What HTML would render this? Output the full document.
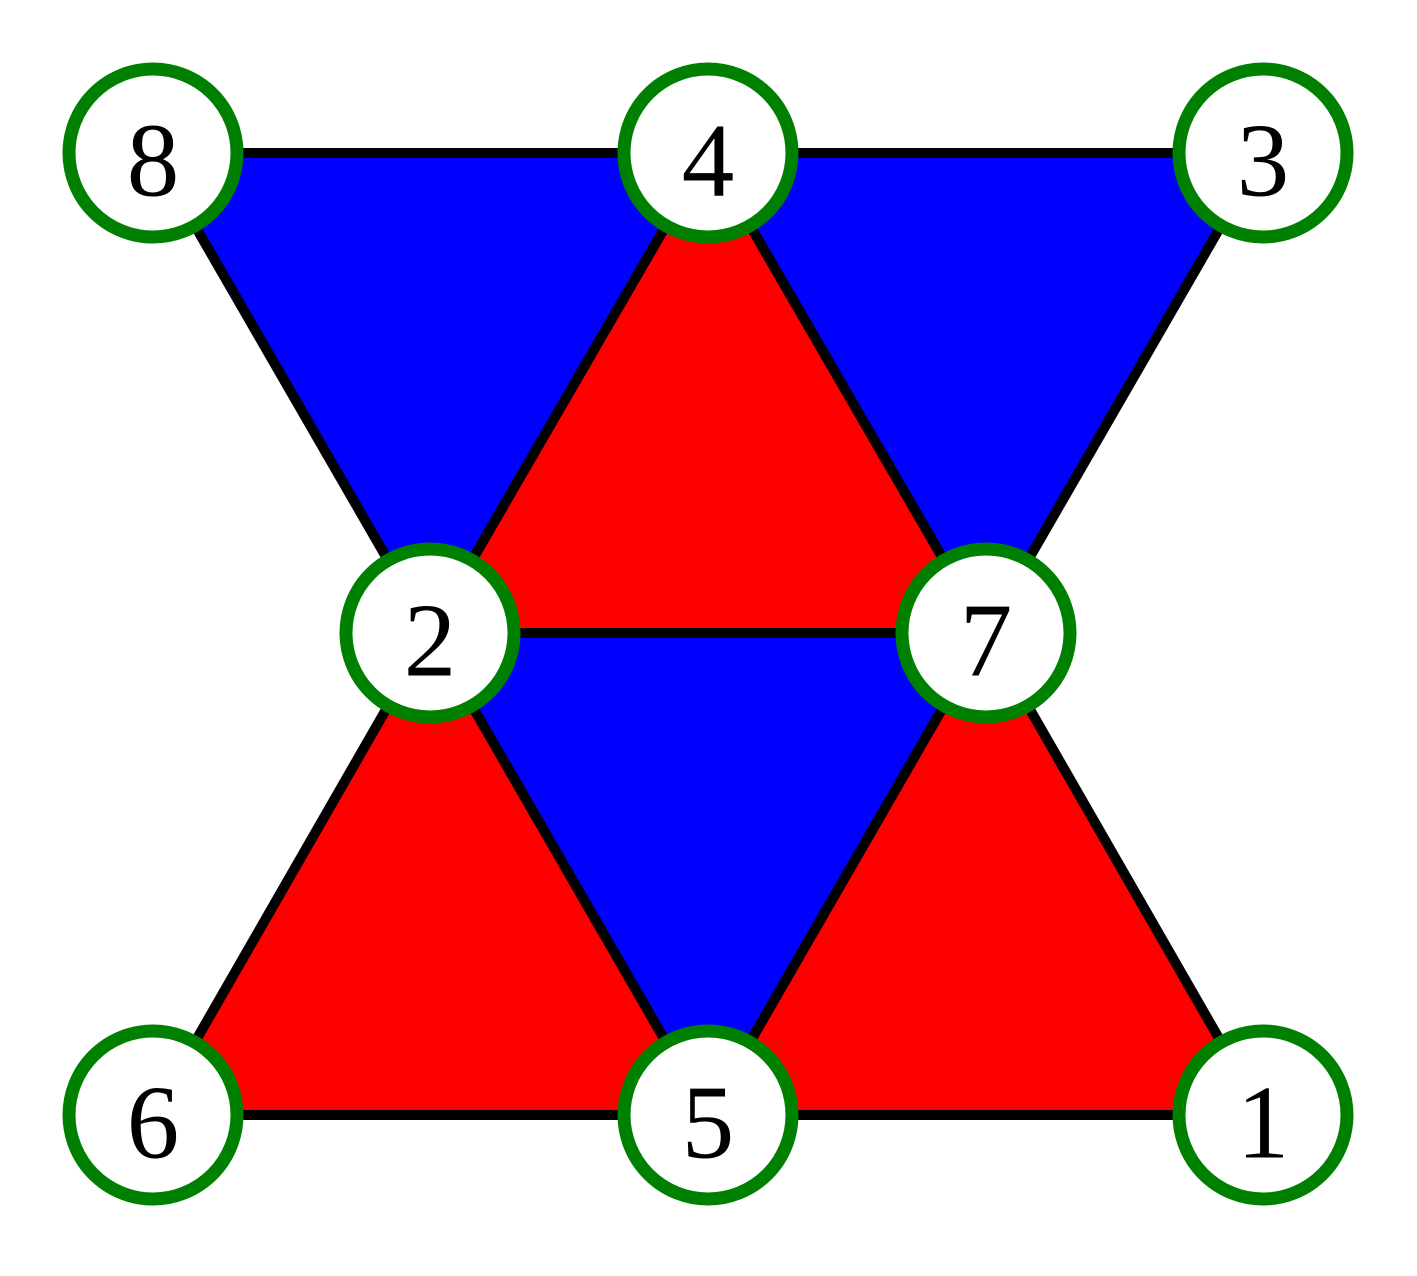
<!DOCTYPE html>
<html><head><meta charset="utf-8"><style>
html,body{margin:0;padding:0;background:#fff;}
svg{display:block;}
text{font-family:"Liberation Serif",serif;font-size:105px;text-anchor:middle;dominant-baseline:central;fill:#000;}
</style></head><body>
<svg width="1417" height="1276" viewBox="0 0 1417 1276">
<g stroke="#000" stroke-width="10" stroke-linejoin="round">
<polygon points="153,153 708,153 430,633" fill="#0000ff"/>
<polygon points="708,153 1263,153 986,633" fill="#0000ff"/>
<polygon points="708,153 430,633 986,633" fill="#ff0000"/>
<polygon points="430,633 986,633 708,1115" fill="#0000ff"/>
<polygon points="153,1115 430,633 708,1115" fill="#ff0000"/>
<polygon points="708,1115 986,633 1263,1115" fill="#ff0000"/>
</g>
<g fill="#fff" stroke="#008000" stroke-width="13">
<circle cx="153" cy="153" r="84"/><circle cx="708" cy="153" r="84"/><circle cx="1263" cy="153" r="84"/>
<circle cx="430" cy="633" r="84"/><circle cx="986" cy="633" r="84"/>
<circle cx="153" cy="1115" r="84"/><circle cx="708" cy="1115" r="84"/><circle cx="1263" cy="1115" r="84"/>
</g>
<text x="153" y="160">8</text><text x="708" y="160">4</text><text x="1263" y="160">3</text>
<text x="430" y="640">2</text><text x="986" y="640">7</text>
<text x="153" y="1122">6</text><text x="708" y="1122">5</text><text x="1263" y="1122">1</text>
</svg>
</body></html>
